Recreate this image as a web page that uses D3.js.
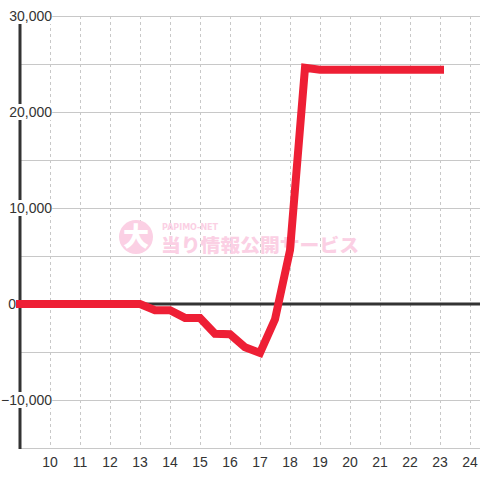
<!DOCTYPE html>
<html>
<head>
<meta charset="utf-8">
<script src="https://cdn.jsdelivr.net/npm/d3@7"></script>
<style>
  body { margin: 0; background: #fff; }
  svg { display: block; font-family: "Liberation Sans", Arial, sans-serif; }
</style>
</head>
<body>
<svg width="480" height="480"></svg>
<script>
// hours and balance (difference in balls)
const hours = [9, 9.5, 10, 10.5, 11, 11.5, 12, 12.5, 13, 13.5, 14, 14.5, 15, 15.5, 16, 16.5, 17, 17.5, 18, 18.5, 19, 19.5, 20, 20.5, 21, 21.5, 22, 22.5, 23];
const balance = [0, 0, 0, 0, 0, 0, 0, 0, 0, -650, -650, -1450, -1450, -3100, -3150, -4500, -5100, -1600, 5600, 24600, 24400, 24400, 24400, 24400, 24400, 24400, 24400, 24400, 24400];
const yTicks = [-10000, 0, 10000, 20000, 30000];
const yGrid = [-15000, -10000, -5000, 0, 5000, 10000, 15000, 20000, 25000, 30000];
const xTicks = [10, 11, 12, 13, 14, 15, 16, 17, 18, 19, 20, 21, 22, 23, 24];

const svg = d3.select("svg");
const W = 480, left = 20;

const x = d3.scaleLinear().domain([9, 24]).range([left, 470]);
const y = d3.scaleLinear().domain([-15000, 30000]).range([448, 16]);

// vertical dashed grid
svg.append("g")
  .selectAll("line")
  .data(xTicks)
  .join("line")
  .attr("x1", (d) => x(d) + 0.5)
  .attr("x2", (d) => x(d) + 0.5)
  .attr("y1", 16)
  .attr("y2", 448)
  .attr("stroke", "#c8c8c8")
  .attr("stroke-dasharray", "3,3");

// horizontal grid
svg.append("g")
  .selectAll("line")
  .data(yGrid.filter((d) => d !== 0))
  .join("line")
  .attr("x1", left)
  .attr("x2", W)
  .attr("y1", (d) => y(d) + 0.5)
  .attr("y2", (d) => y(d) + 0.5)
  .attr("stroke", "#c8c8c8");

// watermark
const pink = "#fbd0e4";
const wm = svg.append("g");
wm.append("circle").attr("cx", 136).attr("cy", 237).attr("r", 17).attr("fill", pink);
wm.append("text").attr("x", 136).attr("y", 246).attr("text-anchor", "middle")
  .attr("font-family", "Noto Sans CJK JP").attr("font-weight", "900").attr("font-size", 26)
  .attr("fill", "#fff").text("大");
wm.append("text").attr("x", 162).attr("y", 229.5)
  .attr("font-family", "DejaVu Sans").attr("font-weight", "bold").attr("font-size", 8)
  .attr("textLength", 56).attr("lengthAdjust", "spacingAndGlyphs")
  .attr("fill", pink).text("PAPIMO-NET");
wm.append("text").attr("x", 161).attr("y", 252)
  .attr("font-family", "Noto Sans CJK JP").attr("font-weight", "900").attr("font-size", 18.5)
  .attr("textLength", 198).attr("lengthAdjust", "spacingAndGlyphs")
  .attr("fill", pink).text("当り情報公開サービス");

// zero line
svg.append("line")
  .attr("x1", left).attr("x2", W)
  .attr("y1", y(0)).attr("y2", y(0))
  .attr("stroke", "#333").attr("stroke-width", 3);

// y axis line
svg.append("line")
  .attr("x1", left).attr("x2", left)
  .attr("y1", 16).attr("y2", 449)
  .attr("stroke", "#333").attr("stroke-width", 3);

// data line
const line = d3.line().x((d, i) => x(hours[i])).y((d) => y(d));
svg.append("path")
  .datum(balance)
  .attr("fill", "none")
  .attr("stroke", "#ee1f35")
  .attr("stroke-width", 8)
  .attr("stroke-linecap", "square")
  .attr("stroke-linejoin", "miter")
  .attr("d", line);

// y labels with white backing; the zero label sits left of the axis
const fmt = d3.format(",");
const yl = svg.append("g")
  .selectAll("g")
  .data(yTicks)
  .join("g")
  .attr("transform", (d) => `translate(${d === 0 ? 16 : 52},${y(d)})`);
yl.append("text")
  .attr("text-anchor", "end")
  .attr("dy", "0.36em")
  .attr("font-size", 14)
  .attr("fill", "#333")
  .text((d) => fmt(d))
  .each(function (d) {
    if (d === 0) return;
    const b = this.getBBox();
    d3.select(this.parentNode).insert("rect", "text")
      .attr("x", b.x - 1).attr("y", -8).attr("width", b.width + 1).attr("height", 16)
      .attr("fill", "#fff");
  });

// x labels
svg.append("g")
  .selectAll("text")
  .data(xTicks)
  .join("text")
  .attr("x", (d) => x(d))
  .attr("y", 467)
  .attr("text-anchor", "middle")
  .attr("font-size", 14)
  .attr("fill", "#333")
  .text((d) => d);
</script>
</body>
</html>
